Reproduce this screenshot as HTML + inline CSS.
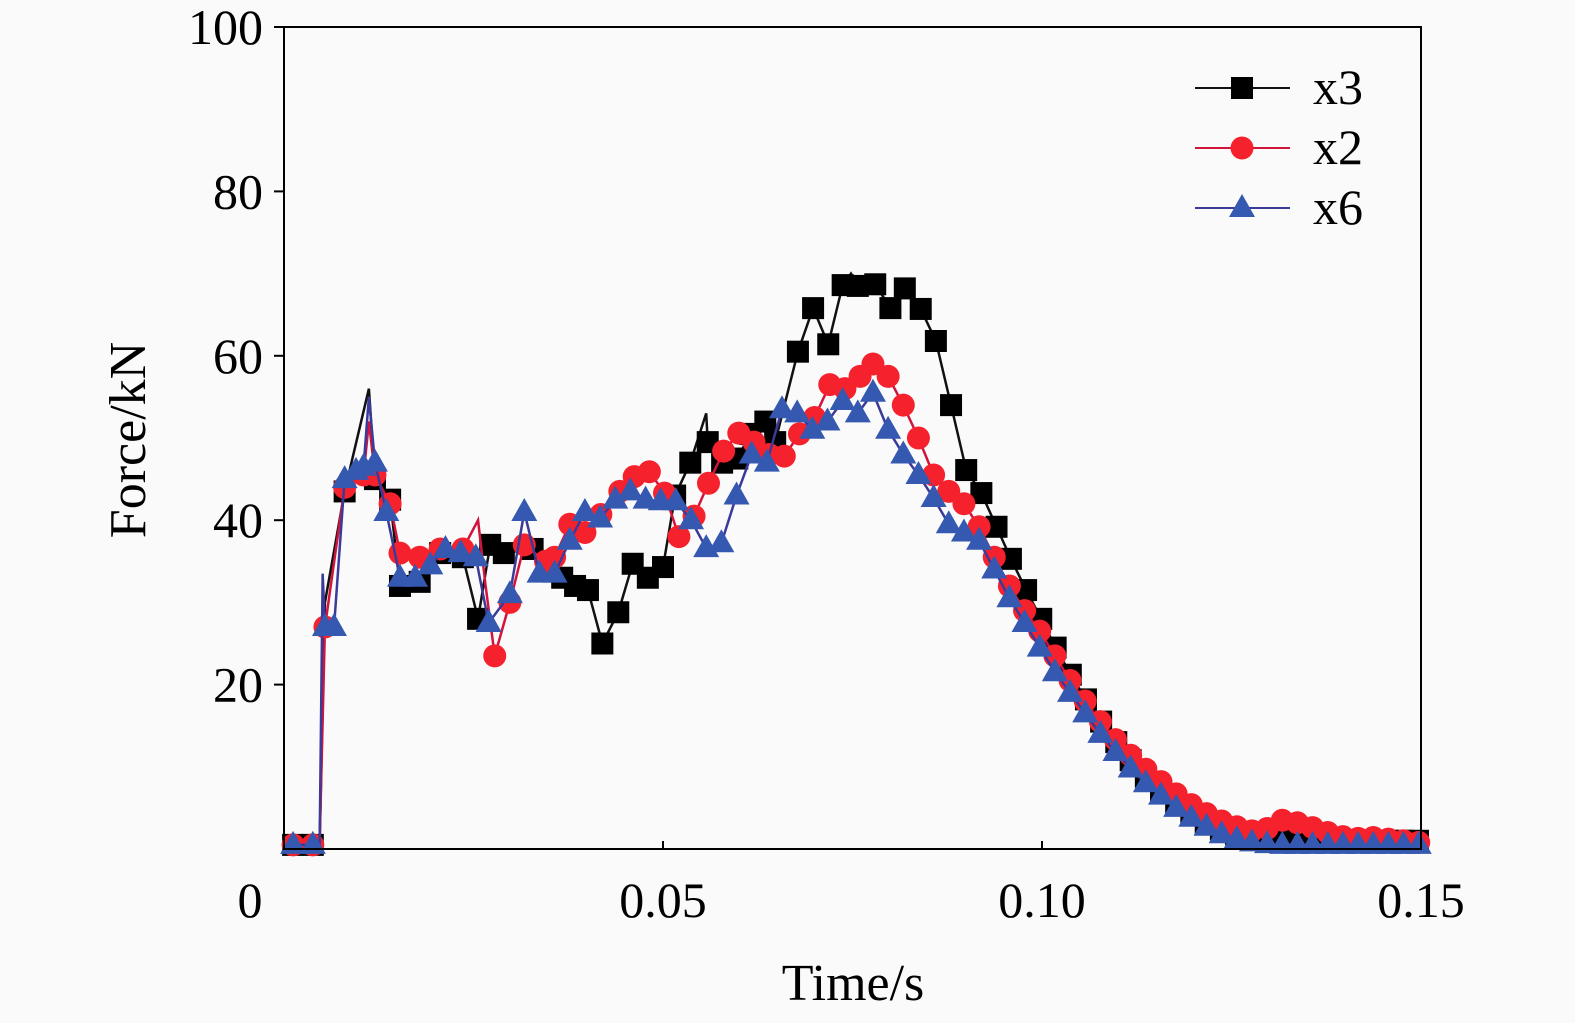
<!DOCTYPE html>
<html><head><meta charset="utf-8"><style>
html,body{margin:0;padding:0;background:#fafafa;}
svg{display:block;font-family:"Liberation Serif",serif;}
</style></head><body>
<svg id="chart" width="1575" height="1023" viewBox="0 0 1575 1023" xmlns="http://www.w3.org/2000/svg">
<rect x="0" y="0" width="1575" height="1023" fill="#fafafa"/>
<g id="series"></g>
<rect x="284" y="27" width="1137" height="822" fill="none" stroke="#000" stroke-width="2"/>
<g id="axes"></g>
<text transform="translate(145,440) rotate(-90)" text-anchor="middle" font-size="52">Force/kN</text>
<text x="853" y="1000" text-anchor="middle" font-size="52">Time/s</text>
<g id="legend"></g>
</svg>
<script>
const xTicks=[0,0.05,0.10,0.15];
const xTickLabels=["0","0.05","0.10","0.15"];
const yTicks=[20,40,60,80,100];
const yTickLabels=["20","40","60","80","100"];
const seriesNames=["x3","x2","x6"];
const x3T=[0.0012,0.0038,0.0047,0.0054,0.008,0.0112,0.012,0.014,0.0153,0.0179,0.0206,0.0236,0.0256,0.0272,0.029,0.0328,0.0367,0.0384,0.0401,0.042,0.0441,0.046,0.048,0.05,0.0516,0.0536,0.0557,0.0559,0.0578,0.0598,0.0615,0.0635,0.0648,0.0678,0.0698,0.0718,0.0737,0.0748,0.0757,0.078,0.08,0.0819,0.084,0.086,0.088,0.09,0.092,0.094,0.0959,0.0979,0.0999,0.1018,0.1038,0.1058,0.1078,0.1098,0.1117,0.1137,0.1157,0.1177,0.1197,0.1216,0.1236,0.1256,0.1276,0.1296,0.1316,0.1336,0.1356,0.1376,0.1396,0.1416,0.1436,0.1456,0.1476,0.1496];
const x3F=[0.5,0.5,0.5,30,43.5,56,45,42.5,32,32.5,36,35.5,28,37,36,36.5,33,32,31.5,25,28.8,34.7,33,34.3,43,47,53,49.5,47,47.5,50.5,52,49.5,60.5,65.8,61.4,68.6,70,68.5,68.7,65.8,68.2,65.7,61.8,54,46.1,43.3,39.2,35.3,31.5,28,24.5,21.2,18.2,15.5,13,10.8,8.8,7,5.5,4.2,3.2,2.4,1.8,1.3,1.1,1,1,1,1,1,1,1,1,1,1];
const x3NoMark=[2,3,5,26,37];
const x2T=[0.0012,0.0038,0.0047,0.0054,0.008,0.0105,0.0112,0.012,0.014,0.0153,0.0179,0.0206,0.0236,0.0256,0.0266,0.0278,0.0298,0.0317,0.0345,0.0357,0.0377,0.0397,0.0418,0.0443,0.0462,0.0482,0.0502,0.0521,0.0541,0.056,0.058,0.06,0.062,0.064,0.066,0.068,0.07,0.072,0.074,0.076,0.0777,0.0797,0.0817,0.0837,0.0857,0.0877,0.0897,0.0917,0.0937,0.0957,0.0977,0.0997,0.1017,0.1037,0.1057,0.1077,0.1097,0.1117,0.1137,0.1157,0.1177,0.1197,0.1217,0.1237,0.1257,0.1277,0.1297,0.1317,0.1337,0.1357,0.1377,0.1397,0.1417,0.1437,0.1457,0.1477,0.1497];
const x2F=[0.5,0.5,0.5,27,44,45.5,52,45.5,42,36,35.5,36.5,36.5,40,32,23.5,30,37,35,35.5,39.5,38.5,40.7,43.5,45.3,45.9,43.3,38,40.5,44.5,48.4,50.6,49.5,48,47.8,50.5,52.5,56.5,56,57.5,59,57.5,54,50,45.5,43.5,42,39.2,35.5,32,29,26.5,23.5,20.5,18,15.5,13.3,11.4,9.7,8.2,6.7,5.4,4.3,3.4,2.7,2.2,2.5,3.5,3.2,2.6,2,1.5,1.3,1.4,1.2,1,0.8];
const x2NoMark=[2,6,13,14];
const x6T=[0.0012,0.0038,0.0047,0.0051,0.0054,0.0066,0.008,0.0095,0.0105,0.0112,0.012,0.0135,0.0153,0.0173,0.0193,0.0213,0.0233,0.0253,0.027,0.0298,0.0317,0.0337,0.0357,0.0377,0.0397,0.0417,0.0437,0.0457,0.0477,0.0497,0.0517,0.0537,0.0557,0.0577,0.0597,0.0617,0.0637,0.0657,0.0677,0.0697,0.0717,0.0737,0.0757,0.0777,0.0797,0.0817,0.0837,0.0857,0.0877,0.0897,0.0917,0.0937,0.0957,0.0977,0.0997,0.1017,0.1037,0.1057,0.1077,0.1097,0.1117,0.1137,0.1157,0.1177,0.1197,0.1217,0.1237,0.1257,0.1277,0.1297,0.1317,0.1337,0.1357,0.1377,0.1397,0.1417,0.1437,0.1457,0.1477,0.1497];
const x6F=[0.5,0.5,0.5,33.5,27,27,45,46,46.5,55,47,41,33,33,34.5,36.5,36,35.5,27.5,31,41,33.5,33.5,37.5,41,40.2,42.5,43.5,42.5,42.3,42.3,40,36.6,37.2,43,48,47,53.5,53,51,52,54.5,53,55.5,51,48,45.5,42.7,39.5,38.5,37.5,34,30.5,27.5,24.5,21.5,19,16.5,14,11.8,9.8,8,6.5,5,3.8,2.7,1.8,1.2,0.8,0.6,0.5,0.5,0.5,0.5,0.5,0.5,0.5,0.5,0.5,0.5];
const x6NoMark=[2,3,9];

const NS="http://www.w3.org/2000/svg";
const X0=284,X1=1421,Y0=849,Y1=27;
function sx(t){return X0+(t-0)/(0.15)*(X1-X0);}
function sy(f){return Y0-(f/100)*(Y0-Y1);}
function mk(tag,attrs,parent){const e=document.createElementNS(NS,tag);for(const k in attrs)e.setAttribute(k,attrs[k]);parent.appendChild(e);return e;}
function marker(shape,x,y,color,parent){
  let e;
  if(shape==="square") e=mk("rect",{x:x-11,y:y-11,width:22,height:22,fill:color},parent);
  else if(shape==="circle") e=mk("circle",{cx:x,cy:y,r:11.5,fill:color},parent);
  else e=mk("polygon",{points:`${x},${y-14} ${x+13},${y+9} ${x-13},${y+9}`,fill:color},parent);
  return e;
}
const axes=document.getElementById('axes');
xTicks.forEach((v,i)=>{
  const l=mk("line",{x1:sx(v),x2:sx(v),y1:Y0,y2:Y0-8,stroke:"#000","stroke-width":2},axes);
  
  
  const t=mk("text",{x:i===0?250:sx(v),y:917,"text-anchor":"middle","font-size":50},axes);
  t.textContent=xTickLabels[i];
  
  
});
yTicks.forEach((v,i)=>{
  const l=mk("line",{x1:X0-10,x2:X0,y1:sy(v),y2:sy(v),stroke:"#000","stroke-width":2},axes);
  
  
  const t=mk("text",{x:263,y:sy(v)+17,"text-anchor":"end","font-size":50},axes);
  t.textContent=yTickLabels[i];
  
  
});
const defs=[
  {T:x3T,F:x3F,skip:x3NoMark,line:"#111",col:"#000",shape:"square"},
  {T:x2T,F:x2F,skip:x2NoMark,line:"#d0143c",col:"#f5222d",shape:"circle"},
  {T:x6T,F:x6F,skip:x6NoMark,line:"#3a3a9a",col:"#3558b0",shape:"triangle"}
];
const sg=document.getElementById('series');
defs.forEach((d,si)=>{
  const g=mk("g",{},sg);
  
  
  const pts=d.T.map((t,i)=>sx(t)+","+sy(d.F[i])).join(" ");
  const pl=mk("polyline",{points:pts,fill:"none",stroke:d.line,"stroke-width":2.5},g);
  
  
  d.T.forEach((t,i)=>{
    if(d.skip.includes(i)) return;
    const m=marker(d.shape,sx(t),sy(d.F[i]),d.col,g);
    
    
  });
});
const lg=document.getElementById('legend');


defs.forEach((d,i)=>{
  const y=88+i*60;
  const g=mk("g",{},lg);
  
  
  mk("line",{x1:1195,x2:1290,y1:y,y2:y,stroke:d.line,"stroke-width":2},g);
  marker(d.shape,1242,y,d.col,g);
  const t=mk("text",{x:1313,y:y+16,"font-size":50},g);
  t.textContent=seriesNames[i];
});
</script>
</body></html>
